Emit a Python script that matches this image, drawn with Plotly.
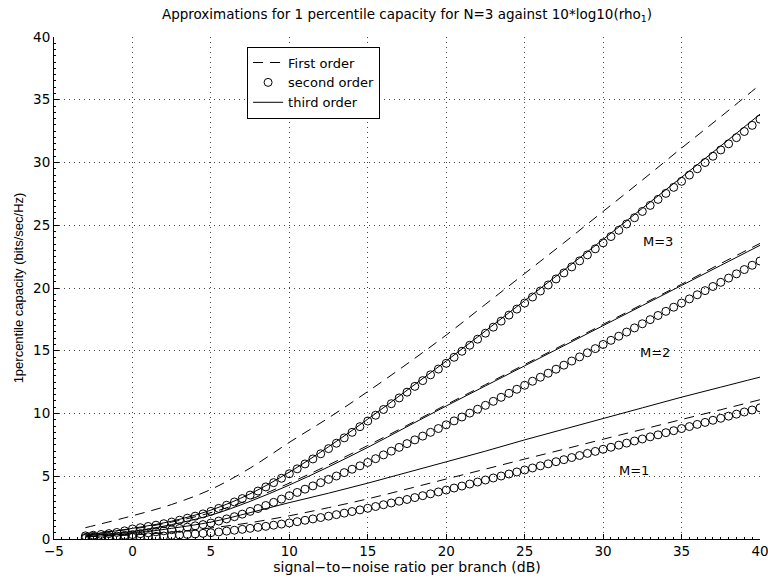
import plotly.graph_objects as go

# ---------------- data ----------------
x_mark = [i * 0.5 for i in range(-6, 81)]  # -3 ... 40 dB, 0.5 dB step

second_M3 = [0.25, 0.30, 0.36, 0.43, 0.52, 0.65, 0.80, 0.90, 1.00, 1.10, 1.22, 1.35, 1.50, 1.66, 1.82, 2.00,
             2.20, 2.44, 2.69, 2.95, 3.22, 3.50, 3.82, 4.15, 4.49, 4.84, 5.20, 5.59, 5.98, 6.38, 6.79, 7.20,
             7.63, 8.06, 8.50, 8.95, 9.40, 9.86, 10.32, 10.78, 11.24, 11.70, 12.16, 12.62, 13.08, 13.54, 14.00,
             14.48, 14.96, 15.44, 15.92, 16.40, 16.88, 17.36, 17.84, 18.32, 18.80, 19.28, 19.76, 20.24, 20.72,
             21.20, 21.68, 22.16, 22.64, 23.12, 23.60, 24.10, 24.60, 25.10, 25.60, 26.10, 26.58, 27.06, 27.54,
             28.02, 28.50, 29.00, 29.50, 30.00, 30.50, 31.00, 31.49, 31.98, 32.47, 32.96, 33.45]

second_M2 = [0.12, 0.14, 0.17, 0.20, 0.24, 0.29, 0.35, 0.42, 0.49, 0.57, 0.65, 0.74, 0.84, 0.94, 1.05, 1.15,
             1.27, 1.43, 1.60, 1.78, 1.98, 2.20, 2.43, 2.67, 2.92, 3.18, 3.45, 3.71, 3.97, 4.23, 4.49, 4.75,
             5.02, 5.29, 5.56, 5.83, 6.10, 6.40, 6.70, 7.00, 7.30, 7.60, 7.90, 8.20, 8.50, 8.80, 9.10,
             9.41, 9.72, 10.03, 10.34, 10.65, 10.97, 11.29, 11.61, 11.93, 12.25, 12.57, 12.89, 13.21, 13.53,
             13.85, 14.18, 14.51, 14.84, 15.17, 15.50, 15.83, 16.16, 16.49, 16.82, 17.15, 17.48, 17.81, 18.14,
             18.47, 18.80, 19.13, 19.46, 19.79, 20.12, 20.45, 20.79, 21.13, 21.47, 21.81, 22.15]

second_M1 = [0.05, 0.06, 0.07, 0.08, 0.09, 0.11, 0.13, 0.15, 0.18, 0.21, 0.24, 0.28, 0.32, 0.36, 0.40, 0.45,
             0.50, 0.56, 0.63, 0.70, 0.77, 0.85, 0.93, 1.01, 1.10, 1.19, 1.28, 1.38, 1.49, 1.60, 1.71, 1.82,
             1.94, 2.06, 2.19, 2.32, 2.45, 2.59, 2.73, 2.87, 3.01, 3.15, 3.30, 3.45, 3.60, 3.75, 3.90,
             4.06, 4.22, 4.38, 4.54, 4.70, 4.86, 5.02, 5.18, 5.34, 5.50, 5.66, 5.83, 5.99, 6.16,
             6.32, 6.49, 6.65, 6.82, 6.98, 7.15, 7.31, 7.48, 7.64, 7.81, 7.97, 8.14, 8.30, 8.47,
             8.63, 8.80, 8.96, 9.13, 9.29, 9.46, 9.62, 9.79, 9.95, 10.12, 10.28, 10.45]

x_line = [-3, 0, 2.5, 5, 7.5, 10, 12.5, 15, 17.5, 20, 22.5, 25, 27.5, 30, 32.5, 35, 37.5, 40]

first_M3 = [0.90, 1.85, 2.75, 3.95, 5.65, 7.70, 9.65, 11.75, 13.95, 16.25, 18.70, 21.15, 23.60, 26.10, 28.60, 31.15, 33.65, 36.20]
third_M3 = [0.30, 0.85, 1.42, 2.30, 3.60, 5.33, 7.35, 9.55, 11.85, 14.18, 16.58, 19.00, 21.42, 23.87, 26.35, 28.82, 31.32, 33.85]
first_M2 = [0.45, 0.80, 1.35, 2.10, 3.15, 4.45, 5.90, 7.45, 9.05, 10.70, 12.30, 13.90, 15.50, 17.10, 18.70, 20.30, 21.95, 23.55]
third_M2 = [0.25, 0.60, 1.15, 1.90, 3.00, 4.30, 5.75, 7.30, 8.95, 10.60, 12.20, 13.80, 15.40, 17.00, 18.60, 20.20, 21.80, 23.40]
first_M1 = [0.20, 0.32, 0.55, 0.88, 1.30, 1.85, 2.50, 3.20, 3.98, 4.78, 5.57, 6.37, 7.15, 7.95, 8.73, 9.52, 10.30, 11.10]
third_M1 = [0.15, 0.45, 0.85, 1.35, 2.10, 2.90, 3.65, 4.45, 5.30, 6.15, 7.00, 7.90, 8.75, 9.60, 10.45, 11.30, 12.10, 12.90]

labels = ["M=3", "M=2", "M=1"]
label_x = [33.5, 33.3, 32.0]
label_y = [23.7, 14.9, 5.45]

x_ticks = [-5, 0, 5, 10, 15, 20, 25, 30, 35, 40]
y_ticks = [0, 5, 10, 15, 20, 25, 30, 35, 40]

# ---------------- figure ----------------
WIDE = "DejaVu Sans, Verdana, sans-serif"
NARROW = "Liberation Sans, Arial, Helvetica, sans-serif"
fig = go.Figure()

dash_style = dict(color="black", width=1, dash="10px,7px")
solid_style = dict(color="black", width=1)

groups = [(first_M3, second_M3, third_M3), (first_M2, second_M2, third_M2), (first_M1, second_M1, third_M1)]
order = ["first", "second", "third"]
traces = []
for k, (f, s, t) in enumerate(groups):
    show = (k == 0)
    traces.append(go.Scatter(x=x_line, y=f, mode="lines", line=dash_style, line_shape="spline",
                             name="First order", legendgroup="first", showlegend=show))
    traces.append(go.Scatter(x=x_mark, y=s, mode="markers",
                             marker=dict(symbol="circle-open", size=8, color="black", line=dict(width=1, color="black")),
                             name="second order", legendgroup="second", showlegend=show))
    traces.append(go.Scatter(x=x_line, y=t, mode="lines", line=solid_style, line_shape="spline",
                             name="third order", legendgroup="third", showlegend=show))
traces.sort(key=lambda tr: order.index(tr.legendgroup))
for tr in traces:
    fig.add_trace(tr)

for lab, lx, ly in zip(labels, label_x, label_y):
    fig.add_annotation(x=lx, y=ly, text=lab, showarrow=False, font=dict(family=WIDE, size=13, color="black"))

axis_common = dict(
    showline=True, linecolor="black", linewidth=1,
    ticks="inside", ticklen=5, tickcolor="black", tickwidth=1,
    showgrid=True, gridcolor="#444444", gridwidth=1, griddash="1px,4px",
    zeroline=False, mirror=False, automargin=False,
    tickfont=dict(family=WIDE, size=13.5, color="black"),
    ticklabeloverflow="allow",
    minor=dict(ticks="inside", ticklen=2, tickcolor="black", dtick=0.5, showgrid=False),
)

fig.update_xaxes(range=[-5, 40], tickvals=x_ticks, ticktext=[str(v).replace("-", "\u2212") for v in x_ticks],
                 title=dict(text="signal\u2212to\u2212noise ratio per branch (dB)", font=dict(family=WIDE, size=14, color="black"), standoff=3),
                 **axis_common)
fig.update_yaxes(range=[0, 40], tickvals=y_ticks,
                 title=dict(text="1percentile capacity (bits/sec/Hz)", font=dict(family=NARROW, size=13, color="black"), standoff=6),
                 **axis_common)

fig.update_layout(
    width=768, height=580,
    margin=dict(l=53.5, r=8, t=37, b=40.5),
    paper_bgcolor="white", plot_bgcolor="white",
    title=dict(text="Approximations for 1 percentile capacity for N=3 against 10*log10(rho<sub>1</sub>)",
               xref="paper", x=0.5, xanchor="center", yref="container", y=1 - 14 / 580, yanchor="middle",
               font=dict(family=WIDE, size=13.5, color="black")),
    legend=dict(x=0.2735, y=0.981, xanchor="left", yanchor="top",
                bgcolor="white", bordercolor="black", borderwidth=1,
                font=dict(family=WIDE, size=13, color="black"),
                tracegroupgap=0, itemwidth=30),
    showlegend=True,
)

fig.write_html("out.html", config={"displayModeBar": False},
               post_script="document.body.style.margin='0';")
